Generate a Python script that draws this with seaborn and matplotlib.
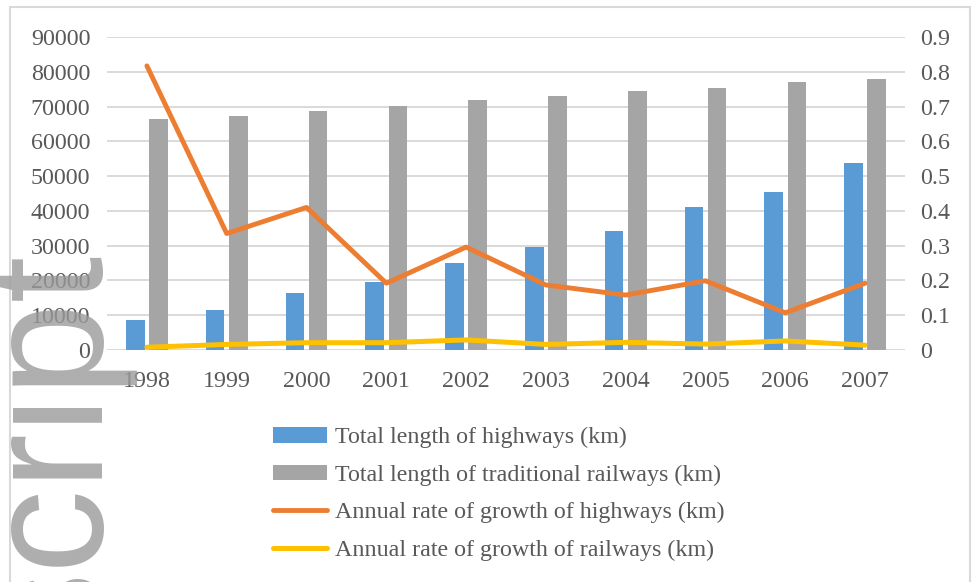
import numpy as np
import pandas as pd
import matplotlib
matplotlib.use("Agg")
import matplotlib.pyplot as plt
import seaborn as sns
from matplotlib.patches import Rectangle
from matplotlib.ticker import FuncFormatter, MultipleLocator

# ---- data ---------------------------------------------------------------
years = ["1998", "1999", "2000", "2001", "2002", "2003", "2004", "2005", "2006", "2007"]
highway_length = [8733, 11605, 16314, 19437, 25130, 29745, 34288, 41005, 45339, 53913]
railway_length = [66400, 67400, 68700, 70100, 71900, 73000, 74400, 75400, 77100, 78000]
highway_growth = [0.817, 0.335, 0.410, 0.192, 0.296, 0.187, 0.158, 0.199, 0.107, 0.192]
railway_growth = [0.008, 0.016, 0.021, 0.021, 0.029, 0.016, 0.022, 0.017, 0.026, 0.014]

series_labels = [
    "Total length of highways (km)",
    "Total length of traditional railways (km)",
    "Annual rate of growth of highways (km)",
    "Annual rate of growth of railways (km)",
]

# ---- style --------------------------------------------------------------
sns.set_theme(style="white")
plt.rcParams["font.family"] = ["Liberation Serif", "DejaVu Serif"]
TEXT = "#595959"
GRID = "#D9D9D9"
BLUE, GREY, ORANGE, YELLOW = "#5B9BD5", "#A5A5A5", "#ED7D31", "#FFC000"
FS = 17.3

W, H = 973, 582
fig = plt.figure(figsize=(W / 100, H / 100), dpi=100)
fig.patch.set_facecolor("white")

ax = fig.add_axes([107 / W, 1 - 350 / H, 798 / W, 313 / H])

bars = pd.DataFrame({
    "year": years * 2,
    "length": highway_length + railway_length,
    "series": [series_labels[0]] * len(years) + [series_labels[1]] * len(years),
})
sns.barplot(data=bars, x="year", y="length", hue="series",
            hue_order=series_labels[:2], palette=[BLUE, GREY],
            saturation=1, width=0.58, gap=0.2, linewidth=0, ax=ax)
leg0 = ax.get_legend()
bar_handles = list(leg0.legend_handles)
leg0.remove()

ax.set_xlim(-0.5, len(years) - 0.5)
ax.set_ylim(0, 90000)
ax.yaxis.set_major_locator(MultipleLocator(10000))
ax.yaxis.grid(True, color=GRID, linewidth=1.4)
ax.set_axisbelow(True)
ax.set_xlabel("")
ax.set_ylabel("")
for s in ax.spines.values():
    s.set_visible(False)
ax.tick_params(axis="y", length=0, pad=12, labelsize=FS, labelcolor=TEXT)
ax.tick_params(axis="x", length=0, pad=15, labelsize=FS, labelcolor=TEXT)

# growth rates on the secondary axis
ax2 = ax.twinx()
pos = np.arange(len(years))
sns.lineplot(x=pos, y=highway_growth, ax=ax2, color=ORANGE, linewidth=3.5,
             label=series_labels[2], solid_capstyle="round", solid_joinstyle="round")
sns.lineplot(x=pos, y=railway_growth, ax=ax2, color=YELLOW, linewidth=3.6,
             label=series_labels[3], solid_capstyle="round", solid_joinstyle="round")
line_handles, _ = ax2.get_legend_handles_labels()
ax2.get_legend().remove()
ax2.set_ylim(0, 0.9)
ax2.yaxis.set_major_locator(MultipleLocator(0.1))
ax2.yaxis.set_major_formatter(FuncFormatter(lambda v, _: f"{v:.1f}".rstrip("0").rstrip(".") if v else "0"))
ax2.set_ylabel("")
for s in ax2.spines.values():
    s.set_visible(False)
ax2.tick_params(axis="y", length=0, pad=11, labelsize=FS, labelcolor=TEXT)
ax2.grid(False)

# legend below the plot
fig.legend(bar_handles + line_handles, series_labels,
           loc="upper left", bbox_to_anchor=(273 / W, 1 - 427 / H),
           frameon=False, fontsize=FS, labelcolor=TEXT,
           handlelength=2.25, handleheight=0.62, handletextpad=0.33,
           labelspacing=0.68, borderpad=0, borderaxespad=0)

# chart frame
fig.add_artist(Rectangle((10 / W, -0.02), 960 / W, (H - 7) / H + 0.02,
                         transform=fig.transFigure, fill=False,
                         edgecolor=GRID, linewidth=1.5))

# margin stamp
fig.text(98 / W, 1 - 251 / H, "script", rotation=90, rotation_mode="anchor",
         ha="right", va="baseline", fontsize=121, family="Liberation Sans",
         color="#9a9a9a", alpha=0.8, zorder=10)

fig.savefig("out.png", dpi=100, facecolor="white")
